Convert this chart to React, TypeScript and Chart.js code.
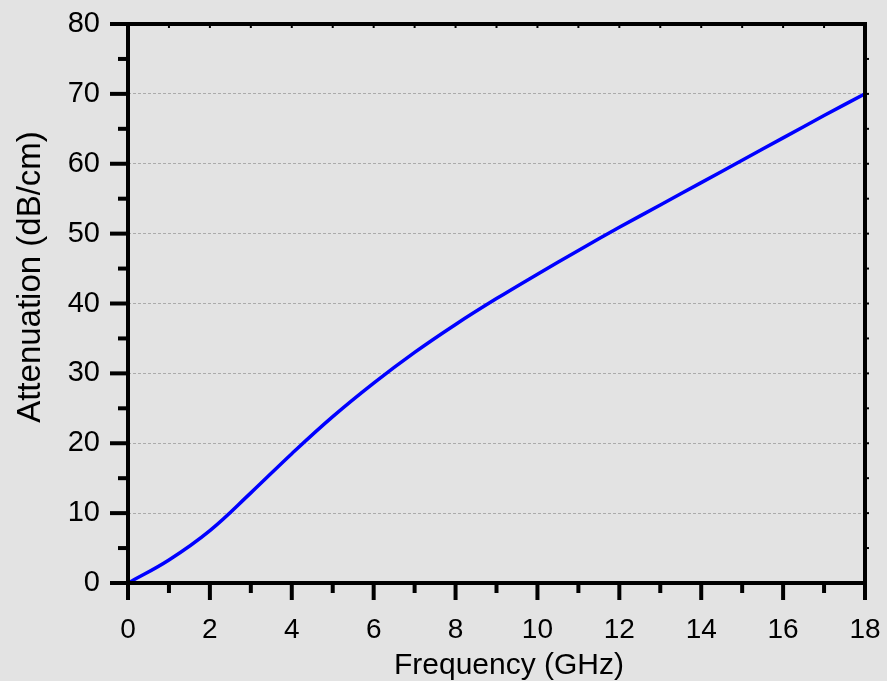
import React, { useEffect, useRef } from "react";
import { Chart, registerables } from "chart.js";

Chart.register(...registerables);

const frequencyGHz = [0, 1, 2, 3, 4, 5, 6, 7, 8, 9, 10, 11, 12, 13, 14, 15, 16, 17, 18];
const attenuationDbCm = [0, 3.3, 7.5, 12.9, 18.5, 23.8, 28.6, 33.0, 37.0, 40.7, 44.2, 47.6, 50.9, 54.1, 57.3, 60.5, 63.7, 66.9, 70.0];
const xTickValues = [0, 2, 4, 6, 8, 10, 12, 14, 16, 18];
const yTickValues = [0, 10, 20, 30, 40, 50, 60, 70, 80];
const xTitle = "Frequency (GHz)";
const yTitle = "Attenuation (dB/cm)";

const FONT = "'Liberation Sans', Arial, Helvetica, sans-serif";

const framePlugin = {
  id: "originFrame",
  afterDatasetsDraw(chart: any) {
    const { ctx, chartArea } = chart;
    const xs = chart.scales.x;
    const ys = chart.scales.y;
    const { left, right, top, bottom } = chartArea;
    ctx.save();
    ctx.strokeStyle = "#000";
    ctx.lineCap = "butt";
    ctx.lineWidth = 4;
    ctx.strokeRect(left, top, right - left, bottom - top);
    for (let v = 0; v <= 18; v += 1) {
      const px = xs.getPixelForValue(v);
      const len = v % 2 === 0 ? 17 : 10;
      ctx.beginPath();
      ctx.moveTo(px, bottom);
      ctx.lineTo(px, bottom + len);
      ctx.stroke();
    }
    for (let v = 0; v <= 80; v += 5) {
      const py = ys.getPixelForValue(v);
      const len = v % 10 === 0 ? 18 : 10;
      ctx.beginPath();
      ctx.moveTo(left, py);
      ctx.lineTo(left - len, py);
      ctx.stroke();
    }
    ctx.lineWidth = 2;
    for (let v = 1; v < 18; v += 1) {
      const px = xs.getPixelForValue(v);
      ctx.beginPath();
      ctx.moveTo(px, top);
      ctx.lineTo(px, top + 4);
      ctx.stroke();
    }
    for (let v = 5; v < 80; v += 5) {
      const py = ys.getPixelForValue(v);
      ctx.beginPath();
      ctx.moveTo(right, py);
      ctx.lineTo(right + 4, py);
      ctx.stroke();
    }
    ctx.fillStyle = "#000";
    ctx.font = `30px ${FONT}`;
    ctx.textAlign = "center";
    ctx.textBaseline = "alphabetic";
    ctx.fillText(xTitle, 509, 674);
    ctx.save();
    ctx.translate(40, 277);
    ctx.rotate(-Math.PI / 2);
    ctx.font = `33px ${FONT}`;
    ctx.fillText(yTitle, 0, 0);
    ctx.restore();
    ctx.restore();
  },
};

export default function App() {
  const ref = useRef<HTMLCanvasElement | null>(null);
  useEffect(() => {
    document.body.style.margin = "0";
    document.body.style.background = "#e3e3e3";
    const canvas = ref.current;
    if (!canvas) return;
    const chart = new Chart(canvas, {
      type: "line",
      data: {
        datasets: [
          {
            data: frequencyGHz.map((f, i) => ({ x: f, y: attenuationDbCm[i] })),
            borderColor: "#0000ff",
            borderWidth: 3.5,
            pointRadius: 0,
            tension: 0.4,
            fill: false,
          },
        ],
      },
      options: {
        animation: false,
        responsive: false,
        devicePixelRatio: 1,
        layout: { padding: { top: 24, right: 22, left: 0, bottom: 0 } },
        plugins: { legend: { display: false }, tooltip: { enabled: false }, title: { display: false } },
        scales: {
          x: {
            type: "linear",
            min: 0,
            max: 18,
            afterFit: (s: any) => {
              s.height = 98;
              s.paddingLeft = 0;
              s.paddingRight = 0;
            },
            afterBuildTicks: (s: any) => {
              s.ticks = xTickValues.map((v) => ({ value: v }));
            },
            border: { display: false },
            grid: { display: true, drawOnChartArea: false, drawTicks: true, tickLength: 18, tickColor: "rgba(0,0,0,0)" },
            ticks: { color: "#000", font: { family: FONT, size: 28 }, padding: 12, maxRotation: 0 },
          },
          y: {
            type: "linear",
            min: 0,
            max: 80,
            afterFit: (s: any) => {
              s.width = 128;
              s.paddingTop = 0;
              s.paddingBottom = 0;
            },
            afterBuildTicks: (s: any) => {
              s.ticks = yTickValues.map((v) => ({ value: v }));
            },
            border: { display: false, dash: [3, 2] },
            grid: {
              display: true,
              color: "#ababab",
              lineWidth: 1,
              drawTicks: true,
              tickLength: 18,
              tickColor: "rgba(0,0,0,0)",
            },
            ticks: { color: "#000", font: { family: FONT, size: 29 }, padding: 10 },
          },
        },
      } as any,
      plugins: [framePlugin],
    });
    return () => chart.destroy();
  }, []);
  return (
    <div style={{ width: 887, height: 681, background: "#e3e3e3" }}>
      <canvas ref={ref} width={887} height={681} style={{ display: "block", width: 887, height: 681 }} />
    </div>
  );
}
